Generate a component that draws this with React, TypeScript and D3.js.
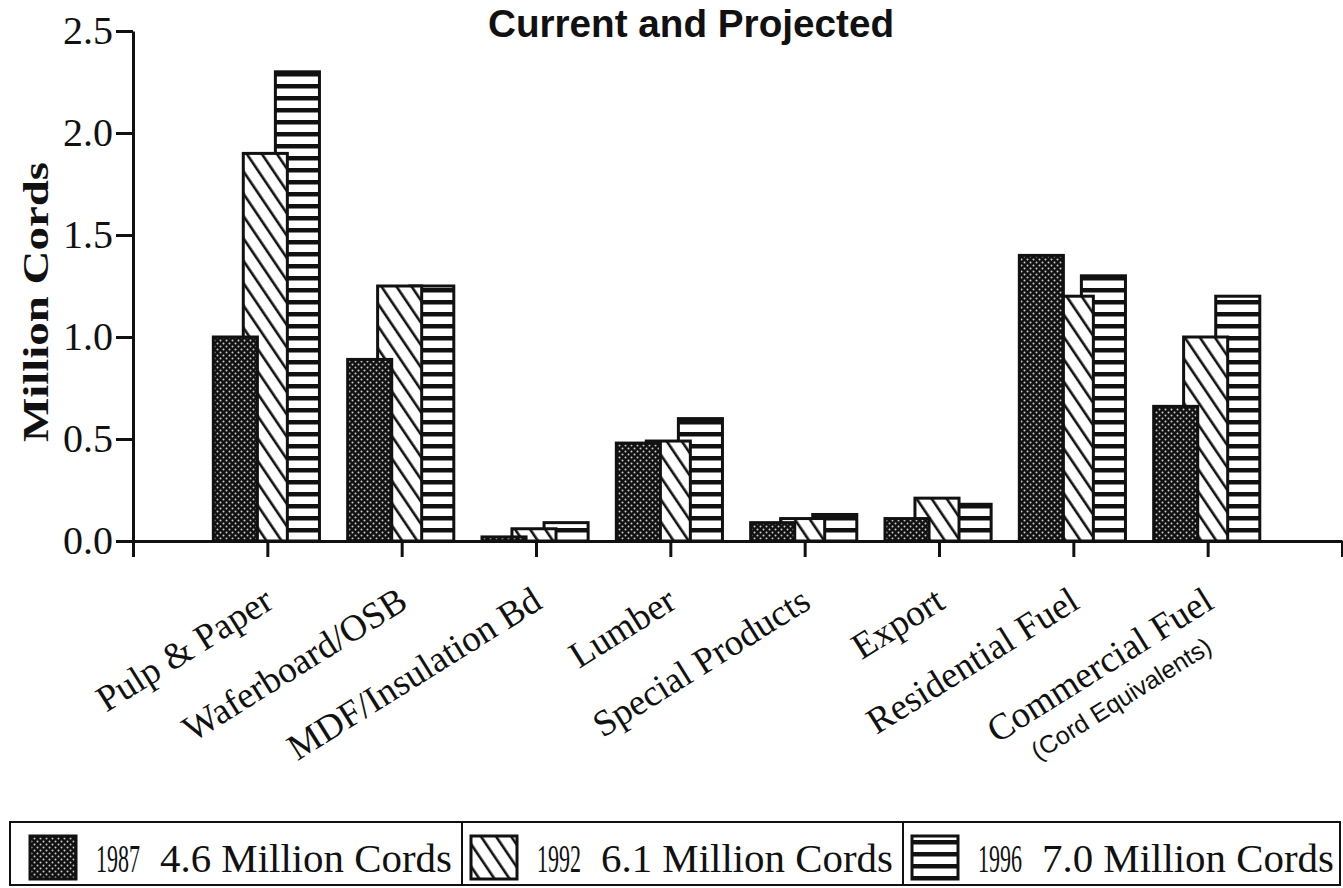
import React, { useEffect, useRef } from 'react';
import * as d3 from 'd3';

const categories = ['Pulp & Paper', 'Waferboard/OSB', 'MDF/Insulation Bd', 'Lumber', 'Special Products', 'Export', 'Residential Fuel', 'Commercial Fuel'];
const years = ['1987', '1992', '1996'];
const totals = ['4.6 Million Cords', '6.1 Million Cords', '7.0 Million Cords'];
const values1987 = [1.0, 0.89, 0.02, 0.48, 0.09, 0.11, 1.4, 0.66];
const values1992 = [1.9, 1.25, 0.06, 0.49, 0.11, 0.21, 1.2, 1.0];
const values1996 = [2.3, 1.25, 0.09, 0.6, 0.13, 0.18, 1.3, 1.2];
const yTicks = [0, 0.5, 1.0, 1.5, 2.0, 2.5];
const title = 'Current and Projected';
const yTitle = 'Million Cords';
const footnote = '(Cord Equivalents)';

const W = 1343;
const H = 888;
const serif = "'Liberation Serif', 'DejaVu Serif', serif";
const narrow = "'Liberation Sans Narrow', 'Liberation Sans', sans-serif";

const App: React.FC = () => {
    const ref = useRef<SVGSVGElement>(null);

    useEffect(() => {
        if (!ref.current) return;
        const svg = d3.select(ref.current);
        svg.selectAll('*').remove();

        const x = d3.scaleLinear().domain([0, categories.length + 1]).range([133, 1342]);
        const y = d3.scaleLinear().domain([0, 2.5]).range([541, 31]);
        const step = x(1) - x(0);

        // fill patterns
        const defs = svg.append('defs');
        const dots = defs.append('pattern').attr('id', 'dots')
            .attr('patternUnits', 'userSpaceOnUse').attr('width', 6).attr('height', 6);
        dots.append('rect').attr('width', 6).attr('height', 6).attr('fill', '#111');
        dots.append('circle').attr('cx', 1.5).attr('cy', 1.5).attr('r', 1.0).attr('fill', '#ccc');
        dots.append('circle').attr('cx', 4.5).attr('cy', 4.5).attr('r', 1.0).attr('fill', '#ccc');

        const hatch = defs.append('pattern').attr('id', 'hatch')
            .attr('patternUnits', 'userSpaceOnUse').attr('width', 12.5).attr('height', 12.5)
            .attr('patternTransform', 'rotate(-34)');
        hatch.append('rect').attr('width', 12.5).attr('height', 12.5).attr('fill', '#fff');
        hatch.append('line').attr('x1', 6).attr('x2', 6).attr('y1', 0).attr('y2', 12.5)
            .attr('stroke', '#111').attr('stroke-width', 2.6);

        const stripes = defs.append('pattern').attr('id', 'stripes')
            .attr('patternUnits', 'userSpaceOnUse').attr('width', 10).attr('height', 12);
        stripes.append('rect').attr('width', 10).attr('height', 12).attr('fill', '#fff');
        stripes.append('rect').attr('width', 10).attr('height', 4.5).attr('fill', '#111');

        const series = [
            { name: years[2], values: values1996, fill: 'url(#stripes)', offset: 0.06 },
            { name: years[1], values: values1992, fill: 'url(#hatch)', offset: -0.179 },
            { name: years[0], values: values1987, fill: 'url(#dots)', offset: -0.402 },
        ];
        const barW = step * 0.328;

        // bars: 1996 in the back, 1987 in front
        series.forEach(s => {
            svg.append('g')
                .selectAll('rect')
                .data(s.values)
                .enter()
                .append('rect')
                .attr('x', (d, i) => x(i + 1) + s.offset * step)
                .attr('y', d => y(d))
                .attr('width', barW)
                .attr('height', d => y(0) - y(d))
                .attr('fill', s.fill)
                .attr('stroke', '#111')
                .attr('stroke-width', 3);
        });

        // y axis
        const yAxis = svg.append('g')
            .attr('transform', `translate(${x(0)},0)`)
            .call(d3.axisLeft(y).tickValues(yTicks).tickSize(17).tickSizeOuter(0).tickFormat(d3.format('.1f')));
        yAxis.selectAll('path, line').attr('stroke', '#111').attr('stroke-width', 3);
        yAxis.selectAll('text').attr('font-family', serif).attr('font-size', 40).attr('fill', '#111');

        // x axis
        const xAxis = svg.append('g')
            .attr('transform', `translate(0,${y(0)})`)
            .call(d3.axisBottom(x).tickValues(d3.range(0, categories.length + 2)).tickSize(16).tickSizeOuter(0).tickFormat(() => ''));
        xAxis.selectAll('path, line').attr('stroke', '#111').attr('stroke-width', 3);

        // category labels
        svg.append('g')
            .selectAll('text')
            .data(categories)
            .enter()
            .append('text')
            .attr('transform', (d, i) => `translate(${x(i + 1) + 8},${y(0) + 66}) rotate(-32)`)
            .attr('text-anchor', 'end')
            .attr('font-family', serif)
            .attr('font-size', 37)
            .attr('fill', '#111')
            .text(d => d);

        svg.append('text')
            .attr('transform', `translate(${x(categories.length) + 6},${y(0) + 110}) rotate(-32)`)
            .attr('text-anchor', 'end')
            .attr('font-family', narrow)
            .attr('font-size', 25)
            .attr('fill', '#111')
            .text(footnote);

        // titles
        svg.append('text')
            .attr('x', 691)
            .attr('y', 37)
            .attr('text-anchor', 'middle')
            .attr('font-family', narrow)
            .attr('font-weight', 'bold')
            .attr('font-size', 38)
            .attr('textLength', 406)
            .attr('lengthAdjust', 'spacingAndGlyphs')
            .attr('fill', '#111')
            .text(title);

        svg.append('text')
            .attr('transform', `translate(48,${(y(0) + y(2.5)) / 2 + 16}) rotate(-90)`)
            .attr('text-anchor', 'middle')
            .attr('font-family', serif)
            .attr('font-weight', 'bold')
            .attr('font-size', 36)
            .attr('textLength', 280)
            .attr('lengthAdjust', 'spacingAndGlyphs')
            .attr('fill', '#111')
            .text(yTitle);

        // legend
        const lx = d3.scaleLinear().domain([0, 1]).range([30, 471]);
        const legend = svg.append('g');
        legend.append('rect')
            .attr('x', 10).attr('y', 822).attr('width', 1330).attr('height', 63)
            .attr('fill', 'none').attr('stroke', '#111').attr('stroke-width', 2);
        [1, 2].forEach(i => {
            legend.append('line')
                .attr('x1', lx(i) - 9).attr('x2', lx(i) - 9)
                .attr('y1', 822).attr('y2', 885)
                .attr('stroke', '#111').attr('stroke-width', 2);
        });

        // condensed text: squeeze each label horizontally to the width it has in the scan
        const squeezed = (tx: number, ty: number, label: string, target: number) => {
            const t = legend.append('text')
                .attr('font-family', serif).attr('font-size', 40)
                .attr('fill', '#111')
                .text(label);
            const len = (t.node() as SVGTextElement).getComputedTextLength() || target;
            t.attr('transform', `translate(${tx},${ty}) scale(${target / len},1)`);
        };

        const fills = ['url(#dots)', 'url(#hatch)', 'url(#stripes)'];
        years.forEach((yr, i) => {
            legend.append('rect')
                .attr('x', lx(i)).attr('y', 836).attr('width', 46).attr('height', 43)
                .attr('fill', fills[i]).attr('stroke', '#111').attr('stroke-width', 3);
            squeezed(lx(i) + 66, 872, yr, 44);
            squeezed(lx(i) + 130, 872, totals[i], 292);
        });
    }, []);

    return (
        <svg ref={ref} width={W} height={H}
            style={{ position: 'absolute', left: 0, top: 0, background: '#fff' }} />
    );
};

export default App;
